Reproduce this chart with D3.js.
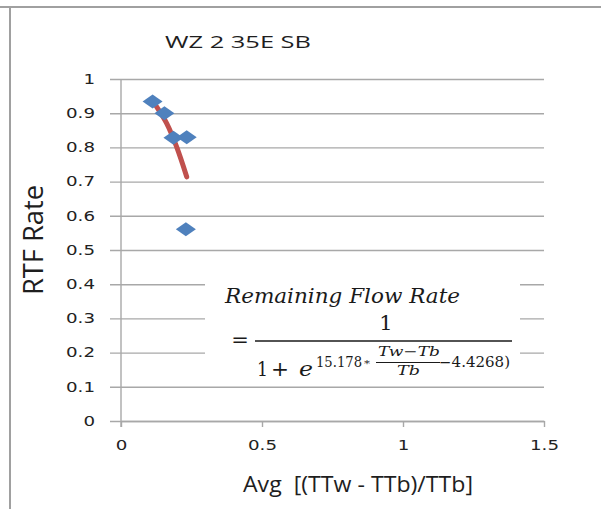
<!DOCTYPE html>
<html>
<head>
<meta charset="utf-8">
<script src="https://cdn.jsdelivr.net/npm/d3@7"></script>
<style>
    body { margin: 0; background: #fff; }
    svg { display: block; }
    .frame { stroke: #a0a0a0; stroke-width: 2; }
    .grid line { stroke: #a8a8a8; stroke-width: 1.4; }
    .grid path { display: none; }
    .axis path, .axis line { stroke: #a8a8a8; stroke-width: 1.4; }
    .axis text { font-family: "DejaVu Sans", sans-serif; font-size: 13.5px; fill: #222; }
    .label { font-family: "Open Sans", sans-serif; fill: #1e1e1e; white-space: pre; }
    .eq { font-family: "DejaVu Serif", serif; fill: #1a1a1a; }
    .eq .it { font-style: italic; }
    .trend { fill: none; stroke: #c0504d; stroke-width: 5; stroke-linecap: round; }
    .dots { fill: #4f81bd; }
</style>
</head>
<body>
<div id="chart"></div>
<script>
// Values
var chartTitle = "WZ 2 35E SB";
var xTitle = "Avg  [(TTw - TTb)/TTb]";
var yTitle = "RTF Rate";
var xTicks = [0, 0.5, 1, 1.5];
var yTicks = [0, 0.1, 0.2, 0.3, 0.4, 0.5, 0.6, 0.7, 0.8, 0.9, 1];

// Scatter points
var pointX = [0.112, 0.154, 0.186, 0.233, 0.230];
var pointY = [0.934, 0.900, 0.828, 0.830, 0.561];

// Red trend line (as drawn)
var trendX = [0.126, 0.162, 0.197, 0.233];
var trendY = [0.919, 0.870, 0.802, 0.714];

var pt = {};
pt.width = 601;
pt.height = 509;
pt.left = 121; pt.right = 544; pt.top = 79; pt.bottom = 421;

pt.svg = d3.select("#chart").append("svg")
    .attr("width", pt.width)
    .attr("height", pt.height);

// Outer frame (top and left edges visible)
pt.svg.append("line").attr("class", "frame")
    .attr("x1", 0).attr("x2", pt.width).attr("y1", 7).attr("y2", 7);
pt.svg.append("line").attr("class", "frame")
    .attr("x1", 10).attr("x2", 10).attr("y1", 7).attr("y2", pt.height);

// Scales
var x = d3.scaleLinear().domain([0, 1.5]).range([pt.left, pt.right]);
var y = d3.scaleLinear().domain([0, 1]).range([pt.bottom, pt.top]);

// Horizontal gridlines
pt.svg.append("g")
    .attr("class", "grid")
    .attr("transform", "translate(110,0)")
    .call(d3.axisLeft(y).tickValues(yTicks).tickSize(-(pt.right - 110)).tickFormat(""));

// Y axis
var yAxis = pt.svg.append("g")
    .attr("class", "axis")
    .attr("transform", "translate(" + pt.left + ",0)")
    .call(d3.axisLeft(y).tickValues(yTicks).tickSize(0).tickPadding(26)
        .tickFormat(function (d) { return d3.format("")(+d.toFixed(1)); }));
yAxis.select(".domain").remove();
pt.svg.append("line")
    .attr("stroke", "#a8a8a8").attr("stroke-width", 1.4)
    .attr("x1", pt.left).attr("x2", pt.left)
    .attr("y1", y(1)).attr("y2", y(0) + 6);

// X axis
var xAxis = pt.svg.append("g")
    .attr("class", "axis")
    .attr("transform", "translate(0," + pt.bottom + ")")
    .call(d3.axisBottom(x).tickValues(xTicks).tickSize(6).tickSizeOuter(0)
        .tickFormat(function (d) { return d3.format("")(d); }));
xAxis.selectAll(".tick text").attr("y", 29).attr("dy", 0);

// Widen tick labels like the reference
function stretch(sel, k) {
    sel.each(function () {
        var w = this.getComputedTextLength();
        d3.select(this).attr("textLength", w * k).attr("lengthAdjust", "spacingAndGlyphs");
    });
}
stretch(yAxis.selectAll(".tick text"), 1.35);
stretch(xAxis.selectAll(".tick text"), 1.35);

// Trend line
var line = d3.line()
    .x(function (d) { return x(d[0]); })
    .y(function (d) { return y(d[1]); })
    .curve(d3.curveCatmullRom);
pt.svg.append("path")
    .attr("class", "trend")
    .attr("d", line(d3.zip(trendX, trendY)));

// Diamond markers
function diamond(cx, cy) {
    var hw = 10, hh = 7;
    return "M" + (cx - hw) + "," + cy + "L" + cx + "," + (cy - hh) +
        "L" + (cx + hw) + "," + cy + "L" + cx + "," + (cy + hh) + "Z";
}
pt.svg.selectAll(".dots")
    .data(d3.zip(pointX, pointY))
    .enter()
    .append("path")
    .attr("class", "dots")
    .attr("d", function (d) { return diamond(x(d[0]), y(d[1])); });

// Titles
pt.svg.append("text").attr("class", "label")
    .attr("x", 165).attr("y", 48)
    .style("font-size", "16px")
    .attr("textLength", 146).attr("lengthAdjust", "spacingAndGlyphs")
    .text(chartTitle);

pt.svg.append("text").attr("class", "label")
    .attr("x", 243).attr("y", 492)
    .style("font-size", "21px")
    .attr("textLength", 230).attr("lengthAdjust", "spacingAndGlyphs")
    .text(xTitle);

pt.svg.append("text").attr("class", "label")
    .attr("transform", "translate(43,240) rotate(-90)")
    .attr("text-anchor", "middle")
    .style("font-size", "27px")
    .style("font-weight", 500)
    .attr("textLength", 110).attr("lengthAdjust", "spacingAndGlyphs")
    .text(yTitle);

// Equation box
var eq = pt.svg.append("g").attr("class", "eq");
eq.append("rect")
    .attr("x", 205).attr("y", 272)
    .attr("width", 315).attr("height", 108)
    .attr("fill", "#fff");

function eqText(tx, ty, size, str, italic, len, anchor) {
    var t = eq.append("text")
        .attr("x", tx).attr("y", ty)
        .style("font-size", size + "px")
        .attr("text-anchor", anchor || "start")
        .text(str);
    if (italic) t.attr("class", "it");
    if (len) t.attr("textLength", len).attr("lengthAdjust", "spacingAndGlyphs");
    return t;
}

eqText(225, 303, 20, "Remaining Flow Rate", true, 235);
eqText(386, 330, 21, "1", false, null, "middle");
eqText(240, 347, 21, "=", false, null, "middle");
eq.append("line")
    .attr("x1", 255).attr("x2", 512).attr("y1", 341).attr("y2", 341)
    .attr("stroke", "#1a1a1a").attr("stroke-width", 1.4);
eqText(257, 376, 21, "1", false, 11);
eqText(271, 376, 21, "+", false, 18);
eqText(299, 376, 21, "e", true, 14);
eqText(316, 367, 14, "15.178", false, 46);
eqText(364, 367, 10, "*", false, 6);
eqText(378, 356, 13, "Tw\u2212Tb", true, 62);
eq.append("line")
    .attr("x1", 376).attr("x2", 440).attr("y1", 362.5).attr("y2", 362.5)
    .attr("stroke", "#1a1a1a").attr("stroke-width", 1);
eqText(397, 375, 13, "Tb", true, 23);
eqText(439, 367, 14, "\u22124.4268)", false, 71);
</script>
</body>
</html>
